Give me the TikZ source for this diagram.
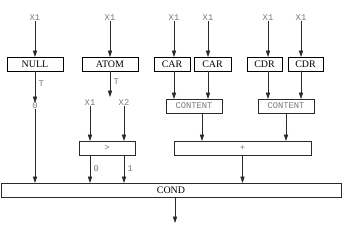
\documentclass[tikz,border=0pt]{standalone}
\usepackage{fontspec}
\setmainfont{Liberation Serif}
\setmonofont{Liberation Mono}
\usepackage{tikz}
\usetikzlibrary{arrows.meta,calc}
\definecolor{labelgray}{HTML}{7A7A7A}
\definecolor{linegray}{HTML}{2A2A2A}

\begin{document}
\begin{tikzpicture}[
  x=0.03cm,y=-0.03cm,
  every node/.style={inner sep=0pt,outer sep=0pt},
  opbox/.style={rectangle,draw=black,fill=white,minimum height=0.42cm,font=\fontsize{8.5}{10}\selectfont},
  fnbox/.style={rectangle,draw=linegray,fill=white,minimum height=0.42cm,font=\fontsize{7.5}{9}\ttfamily,text=labelgray},
  lbl/.style={font=\fontsize{7.5}{9}\ttfamily,text=labelgray},
  arrow/.style={-{Triangle[length=5.5pt,width=3.6pt]},color=linegray,line width=0.5pt}
]
\useasboundingbox (0,0) rectangle (344,235);

% input labels
\node[lbl] (xnull) at (35,18) {X1};
\node[lbl] (xatom) at (110,18) {X1};
\node[lbl] (xcara) at (174,18) {X1};
\node[lbl] (xcarb) at (208,18) {X1};
\node[lbl] (xcdra) at (268,18) {X1};
\node[lbl] (xcdrb) at (301,18) {X1};

% first row
\node[opbox,minimum width=1.68cm] (nullb) at (35,64) {NULL};
\node[opbox,minimum width=1.68cm] (atomb) at (110,64) {ATOM};
\node[opbox,minimum width=1.08cm] (cara) at (172,64) {CAR};
\node[opbox,minimum width=1.11cm] (carb) at (212.5,64) {CAR};
\node[opbox,minimum width=1.05cm] (cdra) at (264.5,64) {CDR};
\node[opbox,minimum width=1.05cm] (cdrb) at (305.5,64) {CDR};

\foreach \src/\dst in {xnull/nullb,xatom/atomb,xcara/cara,xcarb/carb,xcdra/cdra,xcdrb/cdrb}
  \draw[arrow] (\src) -- (\src |- \dst.north);

% NULL and ATOM outputs
\node[lbl] (zero) at (35,106) {0};
\draw[arrow] (nullb) -- node[lbl,right=3pt,pos=0.4]{T} (zero);
\coordinate (atomend) at (110,97);
\draw[arrow] (atomb) -- node[lbl,right=3pt,pos=0.4]{T} (atomend);

% CONTENT boxes
\node[fnbox,minimum width=1.68cm] (conta) at (194,106) {CONTENT};
\node[fnbox,minimum width=1.68cm] (contb) at (286,106) {CONTENT};
\foreach \src/\dst in {xcara/conta,xcarb/conta,xcdra/contb,xcdrb/contb}
  \draw[arrow] (\src |- cara.south) -- (\src |- \dst.north);

% comparison
\node[lbl] (xga) at (90,103) {X1};
\node[lbl] (xgb) at (124,103) {X2};
\node[fnbox,minimum width=1.68cm] (gtb) at (107,148) {>};
\draw[arrow] (xga) -- (xga |- gtb.north);
\draw[arrow] (xgb) -- (xgb |- gtb.north);

% sum
\node[fnbox,minimum width=4.11cm] (plusb) at (242.5,148) {+};
\coordinate (contaout) at ($(conta.south)+(8,0)$);
\draw[arrow] (contaout) -- (contaout |- plusb.north);
\draw[arrow] (contb.south) -- (contb.south |- plusb.north);

% COND
\node[opbox,minimum width=10.2cm,draw=linegray] (cond) at (171,190) {COND};
\draw[arrow] (zero) -- (zero |- cond.north);
\draw[arrow] (xga |- gtb.south) -- node[lbl,right=3pt]{0} (xga |- cond.north);
\draw[arrow] (xgb |- gtb.south) -- node[lbl,right=3pt]{1} (xgb |- cond.north);
\draw[arrow] (plusb.south) -- (plusb.south |- cond.north);
\coordinate (result) at (175,223);
\draw[arrow] (cond.south -| result) -- (result);
\end{tikzpicture}
\end{document}
